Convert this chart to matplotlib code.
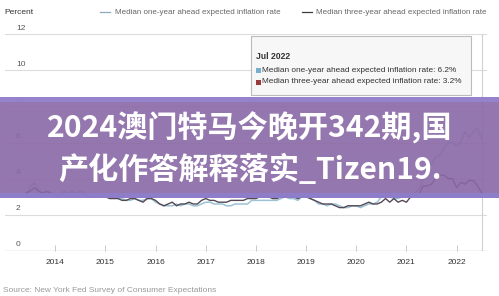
import matplotlib
matplotlib.use("Agg")
import matplotlib.pyplot as plt
from matplotlib.patches import Rectangle, FancyBboxPatch
import numpy as np

plt.rcParams['font.family'] = ['Liberation Sans', 'DejaVu Sans']

# Monthly survey medians, Jun 2013 .. Jul 2022
start_year, start_month = 2013, 6
one_year = [
    3.1, 3.5, 3.8, 3.4, 3.2, 3.3, 3.1,                              # 2013
    3.2, 3.1, 3.3, 3.2, 3.3, 3.2, 3.3, 3.2, 3.1, 3.2, 3.1, 3.0,     # 2014
    3.0, 3.0, 3.0, 2.9, 2.9, 2.8, 2.8, 2.9, 2.8, 2.8, 2.9, 2.9,     # 2015
    2.7, 2.6, 2.5, 2.5, 2.5, 2.6, 2.5, 2.6, 2.6, 2.5, 2.5, 2.6,     # 2016
    2.7, 2.7, 2.6, 2.6, 2.6, 2.5, 2.5, 2.6, 2.6, 2.6, 2.6, 2.8,     # 2017
    2.8, 2.8, 2.8, 2.8, 2.8, 2.8, 2.9, 3.0, 2.9, 2.9, 2.8, 3.0,     # 2018
    3.0, 2.9, 2.8, 2.6, 2.6, 2.5, 2.6, 2.6, 2.5, 2.4, 2.4, 2.5,     # 2019
    2.5, 2.4, 2.5, 2.6, 2.6, 2.7, 3.0, 3.1, 3.0, 2.9, 2.9, 3.0,     # 2020
    3.0, 3.1, 3.2, 3.4, 4.0, 4.8, 4.8, 5.2, 5.3, 5.7, 6.0, 6.0,     # 2021
    5.8, 6.0, 6.6, 6.3, 6.6, 6.8, 6.2,                              # 2022
]
three_year = [
    3.2, 3.3, 3.5, 3.3, 3.2, 3.3, 3.2,
    3.1, 3.0, 3.1, 3.0, 3.1, 3.0, 3.1, 3.1, 3.0, 3.0, 3.0, 3.0,
    3.0, 2.9, 2.9, 2.9, 2.8, 2.8, 2.9, 2.9, 2.8, 2.7, 2.9, 2.9,
    2.8, 2.6, 2.5, 2.6, 2.7, 2.5, 2.6, 2.6, 2.7, 2.6, 2.6, 2.8,
    2.9, 2.8, 2.8, 2.7, 2.7, 2.7, 2.8, 2.8, 2.8, 2.8, 2.9, 2.9,
    2.9, 3.0, 3.0, 3.0, 2.9, 2.9, 3.0, 3.0, 3.0, 3.0, 2.9, 3.0,
    3.0, 2.9, 2.8, 2.7, 2.6, 2.6, 2.6, 2.5, 2.4, 2.4, 2.5, 2.5,
    2.5, 2.5, 2.6, 2.7, 2.6, 2.6, 2.7, 2.9, 2.7, 2.9, 2.7, 2.8,
    2.7, 3.0, 3.1, 3.1, 3.6, 3.6, 3.7, 4.0, 4.2, 4.2, 4.0, 4.0,
    3.5, 3.8, 3.7, 3.9, 3.9, 3.6, 3.2,
]
year_ticks = [2014, 2015, 2016, 2017, 2018, 2019, 2020, 2021, 2022]
y_ticks = [0, 2, 4, 6, 8, 10, 12]
one_label = "Median one-year ahead expected inflation rate"
three_label = "Median three-year ahead expected inflation rate"
tip_month = "Jul 2022"
title_lines = ["2024澳门特马今晚开342期,国", "产化作答解释落实_Tizen19."]
source = "Source: New York Fed Survey of Consumer Expectations"

n = len(one_year)
t = np.array([start_year + (start_month - 1 + i) / 12 for i in range(n)])

W, H = 499, 296
fig = plt.figure(figsize=(W / 100, H / 100), dpi=100)
fig.patch.set_facecolor('white')

def fx(px):
    return px / W

def fy(py):
    return 1 - py / H

ax = fig.add_axes([fx(5), fy(251), fx(487) - fx(5), fy(34) - fy(251)])
ax.set_xlim(2013.0, 2022.605)
ax.set_ylim(0, 12)
for s in ax.spines.values():
    s.set_visible(False)
for v in y_ticks[1:]:
    ax.axhline(v, color='#dcdcdc', lw=0.8, zorder=0)
ax.axhline(0, color='#c8c8c8', lw=1.0, zorder=0)
ax.set_yticks([])
ax.set_xticks(year_ticks)
ax.set_xticklabels([str(y) for y in year_ticks], fontsize=6.0, color='#333333')
ax.tick_params(axis='x', direction='in', length=4, width=0.7, color='#c8c8c8', pad=6)

c_one = '#9cc3d5'
c_three = '#544855'
ax.plot(t, one_year, color=c_one, lw=1.1, zorder=3)
ax.plot(t, three_year, color=c_three, lw=1.0, zorder=4)
# crosshair at the hovered month
ax.axvline(t[-1], color='#d0d0d0', lw=0.8, zorder=1)

for v in y_ticks:
    y_px = 251 - v * 217 / 12
    fig.text(fx(16), fy(y_px - 6), str(v), fontsize=6.0, color='#555555', ha='left', va='center')

fig.text(fx(4), fy(12), "Percent", fontsize=6.0, color='#333333', ha='left', va='center')

# legend row
fig.add_artist(plt.Line2D([fx(100), fx(110)], [fy(12), fy(12)], color='#8ea9bb', lw=0.9))
fig.text(fx(115), fy(12), one_label, fontsize=5.8, color='#666666', ha='left', va='center')
fig.add_artist(plt.Line2D([fx(302), fx(312)], [fy(12), fy(12)], color='#3c3c3c', lw=0.9))
fig.text(fx(316), fy(12), three_label, fontsize=5.8, color='#666666', ha='left', va='center')

# tooltip
box = FancyBboxPatch((fx(251), fy(95)), fx(471) - fx(251), fy(36) - fy(95),
                     boxstyle="square,pad=0", transform=fig.transFigure,
                     facecolor='#f7f7f7', edgecolor='#b8b8b8', lw=0.8, alpha=0.95, zorder=5)
fig.add_artist(box)
fig.text(fx(256), fy(56), tip_month, fontsize=6.2, fontweight='bold', color='#333333',
         ha='left', va='center', zorder=6)
for yy, col, lab, val in [(70, '#7aaed0', one_label, one_year[-1]),
                          (82, '#9a3a3a', three_label, three_year[-1])]:
    fig.add_artist(Rectangle((fx(256), fy(yy + 2.5)), fx(5), fy(0) - fy(5),
                             transform=fig.transFigure, facecolor=col, edgecolor='none', zorder=6))
    fig.text(fx(262), fy(yy), f"{lab}: {val:.1f}%", fontsize=5.95, color='#333333',
             ha='left', va='center', zorder=6)

# banner overlay
fig.add_artist(Rectangle((0, fy(198)), 1, fy(97) - fy(198), transform=fig.transFigure,
                         facecolor='#8a68a6', edgecolor='none', alpha=0.9, zorder=10))
fig.add_artist(Rectangle((0, fy(102)), 1, fy(97) - fy(102), transform=fig.transFigure,
                         facecolor='#9484d0', edgecolor='none', alpha=0.9, zorder=10))
fig.add_artist(Rectangle((0, fy(198)), 1, fy(193) - fy(198), transform=fig.transFigure,
                         facecolor='#8e7ecc', edgecolor='none', alpha=0.9, zorder=10))
for yy, line in zip([128, 169], title_lines):
    fig.text(0.5, fy(yy), line, fontsize=21.7, fontweight='bold', color='white',
             family=['Noto Sans CJK SC', 'DejaVu Sans'], ha='center', va='center', zorder=11)

fig.text(fx(3), fy(290), source, fontsize=6.0, color='#999999', ha='left', va='center')

fig.savefig('out.png', dpi=100)
